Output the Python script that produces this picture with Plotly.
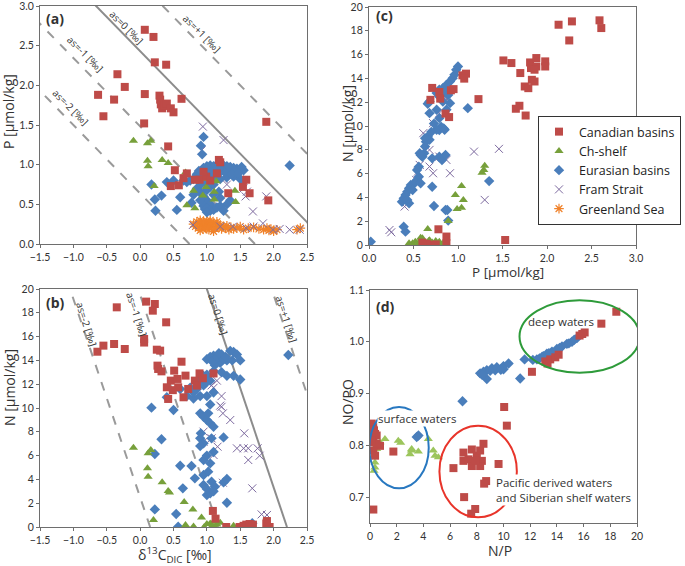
import plotly.graph_objects as go

# ---------------- DATA ----------------
# Panel (a): delta13C_DIC vs P
a_can_d13c = [0.07,0.20,0.22,0.39,-0.34,-0.23,-0.63,-0.39,-0.55,0.07,0.29,0.30,0.31,0.33,0.36,0.40,0.46,0.50,0.62,0.06,0.42,1.89,0.52,0.46,0.58,0.65,0.82,0.89,1.18,1.20,1.15,1.32,1.54,1.59,1.64,1.92,0.99,1.05,0.70,0.95]
a_can_p    = [2.70,2.61,2.29,2.26,2.14,1.98,1.88,1.82,1.61,1.89,1.87,1.82,1.76,1.71,1.74,1.77,1.71,1.66,1.83,1.52,1.23,1.54,0.93,0.73,0.74,0.83,0.81,0.81,1.06,1.03,0.89,0.64,0.72,0.81,0.64,0.55,0.85,0.80,0.89,0.91]
a_chs_d13c = [-0.10,0.11,0.16,0.11,0.12,0.33,0.42,0.21,0.68,0.70,0.82,0.95,0.94,1.11,1.11,1.43,1.42,0.80,1.14,0.99]
a_chs_p    = [1.30,1.27,1.30,1.05,0.98,1.06,1.02,0.73,0.90,0.49,0.45,0.82,0.61,0.66,0.56,0.53,0.67,0.67,0.79,0.72]
a_eur_d13c = [0.17,0.22,0.23,0.32,0.40,0.50,0.55,0.60,0.77,0.97,1.30,0.95,0.93,0.91,2.24,
              0.95,1.00,1.05,1.10,1.15,1.20,1.25,1.30,1.35,1.40,1.45,1.50,1.55,1.00,1.10,1.20,1.30,
              0.85,0.90,0.95,1.00,1.05,1.10,1.15,1.20,1.30,1.40,1.50,1.55,0.75,0.80,0.70,0.65,
              0.85,0.90,0.95,1.00,1.05,0.95,1.00,1.05,1.10,1.15,1.20,1.25,0.90,1.00,1.05,1.10,0.80,1.35,1.20,1.10,1.00,0.92,
              1.02,1.12,1.22,1.32,1.42,1.52,0.97,1.07,1.17,1.27,1.37,1.47,0.88,0.98,1.08,1.18]
a_eur_p    = [0.75,0.56,0.42,0.61,0.78,0.80,0.43,0.59,0.52,0.44,0.50,1.35,1.13,1.24,0.99,
              0.96,0.98,0.99,0.98,1.00,0.97,0.99,0.98,0.97,0.96,0.95,0.94,0.93,0.93,0.94,0.92,0.93,
              0.88,0.85,0.87,0.84,0.86,0.83,0.85,0.82,0.84,0.85,0.82,0.80,0.80,0.82,0.78,0.80,
              0.70,0.65,0.60,0.55,0.50,0.48,0.45,0.42,0.43,0.46,0.48,0.42,0.55,0.68,0.72,0.75,0.62,0.55,0.58,0.62,0.40,0.76,
              0.96,0.97,0.95,0.96,0.93,0.97,0.90,0.91,0.89,0.90,0.88,0.89,0.92,0.78,0.80,0.66]
a_fra_d13c = [0.94,0.92,1.25,1.14,1.25,1.39,1.49,1.58,1.69,1.89,1.10,1.30,1.55,1.60,0.79,1.39,1.59,1.84,1.99,2.24,2.39,2.09,1.70,1.20,1.05]
a_fra_p    = [1.48,1.18,1.31,0.87,0.82,0.87,0.86,0.60,0.41,0.60,0.78,0.75,0.70,0.66,0.24,0.22,0.20,0.26,0.18,0.18,0.18,0.19,0.22,0.22,0.90]
a_grl_d13c = [0.80,0.83,0.85,0.87,0.89,0.90,0.92,0.94,0.95,0.97,0.98,1.00,1.02,1.03,1.05,1.07,1.08,1.10,1.12,1.14,1.16,1.18,1.20,1.22,1.25,1.28,1.30,1.33,1.36,1.40,1.45,1.50,1.55,1.62,1.70,1.78,1.85,1.90,1.93,1.96,2.00,2.05,2.35,2.40,0.90,0.95,1.00,1.05,1.10,1.15]
a_grl_p    = [0.25,0.22,0.28,0.20,0.26,0.30,0.23,0.19,0.27,0.24,0.21,0.29,0.25,0.18,0.27,0.22,0.24,0.26,0.20,0.23,0.25,0.21,0.24,0.19,0.22,0.20,0.23,0.18,0.21,0.19,0.20,0.22,0.18,0.20,0.21,0.19,0.18,0.20,0.17,0.19,0.16,0.18,0.18,0.20,0.17,0.29,0.19,0.30,0.16,0.28]

# Panel (b): delta13C_DIC vs N
b_can_d13c = [-0.35,0.09,0.22,0.19,0.39,-0.64,-0.55,-0.39,-0.23,0.06,0.06,0.25,0.30,0.26,0.27,0.32,0.62,0.51,0.46,0.56,0.68,0.82,0.89,0.85,0.72,0.40,0.57,0.65,0.42,0.49,0.94,1.10,
              1.09,1.13,1.29,1.49,1.55,1.59,1.64,1.69,1.89,1.94,1.90]
b_can_n    = [18.46,18.94,18.74,18.18,17.20,14.73,15.24,15.38,14.96,15.50,15.80,14.90,14.82,13.56,13.28,13.08,13.89,13.14,12.30,12.44,12.72,12.30,12.91,11.88,11.60,11.74,11.74,10.90,10.76,11.50,12.50,12.90,
              1.35,0.70,0.00,0.00,0.10,0.20,0.25,0.20,0.30,0.00,0.50]
b_chs_d13c = [-0.10,0.12,0.16,0.11,0.12,0.33,0.42,0.44,0.66,0.79,0.92,0.20,0.68,0.80,0.96,1.05,1.10,1.15,1.20,1.40,1.00,1.08,1.12]
b_chs_n    = [6.67,6.20,6.48,4.93,4.23,3.76,3.03,2.90,2.11,1.47,0.80,0.58,0.16,0.05,0.00,0.30,0.44,0.20,0.35,0.10,0.25,0.10,0.00]
b_eur_d13c = [2.22,1.00,1.10,1.22,1.35,1.40,1.50,1.30,1.20,1.12,1.10,1.22,1.30,1.40,1.50,0.90,0.95,0.85,0.75,0.70,1.00,1.10,0.80,0.40,0.60,1.05,1.05,1.15,1.25,1.45,1.00,1.05,0.95,0.80,0.90,
              0.17,0.50,0.90,0.95,1.00,1.05,1.10,1.02,0.32,0.22,0.91,0.90,0.95,1.25,1.07,0.60,0.77,0.95,1.05,0.82,0.95,1.02,1.07,0.95,1.12,1.25,1.30,0.64,0.22,0.54,1.30,1.68,0.57,1.00,1.05,1.00,1.10,0.90,1.00,1.10,
              1.18,1.28,1.38,1.08,0.98,0.88]
b_eur_n    = [14.45,14.10,14.40,14.50,14.80,14.70,14.00,14.00,13.80,13.60,13.10,13.00,12.70,12.70,12.40,12.40,11.90,11.60,11.70,11.00,11.00,11.30,10.80,10.90,11.60,10.30,14.30,14.20,14.10,14.50,12.80,12.30,12.70,11.30,11.00,
              10.03,9.83,9.55,9.27,8.99,8.71,8.43,9.55,7.37,6.13,7.87,7.45,7.03,7.53,7.45,5.15,5.12,5.63,5.35,4.09,4.37,4.65,3.81,3.53,3.39,3.75,4.03,3.25,1.48,1.09,2.04,0.31,0.03,2.69,2.83,6.00,6.30,6.80,3.20,3.00,
              14.60,14.30,14.00,13.90,12.10,12.00]
b_fra_d13c = [1.22,1.24,1.35,0.95,1.07,1.16,1.56,1.45,1.55,1.62,1.62,1.76,1.79,1.10,1.24,1.68,1.82,1.90,0.95,1.10,1.22,1.20,1.15,1.07]
b_fra_n    = [10.10,9.55,8.99,8.01,7.45,6.75,7.87,6.61,6.61,6.61,5.63,6.61,5.99,6.05,3.72,3.25,1.06,1.01,7.17,11.70,11.00,10.20,12.30,11.90]

# Panel (c): P vs N
c_can_p = [2.13,2.28,2.59,2.61,2.25,1.51,1.60,1.70,1.81,1.82,1.88,1.88,1.86,1.98,1.98,1.83,1.86,1.75,1.79,1.23,1.65,1.69,1.76,1.53,
           0.71,0.69,0.79,0.92,0.95,1.05,1.09,1.07,0.86,0.90,0.80,0.78,0.87,0.70,0.87,0.65,0.60,0.75]
c_can_n = [18.51,18.79,18.88,18.23,17.19,15.51,15.29,14.45,15.34,14.87,15.71,15.00,14.73,15.43,15.00,13.88,13.74,13.32,13.18,12.26,11.45,11.70,10.88,0.42,
           13.20,12.20,12.86,13.00,13.10,14.26,14.40,13.98,11.04,10.75,12.30,1.32,0.71,0.00,0.14,0.10,0.20,0.05]
c_chs_p = [1.30,1.29,1.27,1.04,0.97,1.06,0.99,1.04,0.89,0.66,0.45,0.52,0.58,0.62,0.67,0.71,0.75,0.79,0.84,0.60,0.64,0.49,0.55,0.70,0.80,0.58,0.68]
c_chs_n = [6.66,6.30,6.07,4.95,4.20,3.78,3.02,3.13,2.01,1.34,0.14,0.28,0.42,0.28,0.33,0.22,0.33,0.28,0.22,0.56,0.14,0.14,0.05,0.05,0.10,0.60,0.40]
c_eur_p = [0.37,0.39,0.41,0.43,0.45,0.47,0.51,0.54,0.56,0.52,0.58,0.49,0.43,0.45,0.56,0.54,0.60,0.62,0.58,0.71,0.73,0.86,0.88,1.35,0.39,0.41,0.02,0.64,0.66,0.79,0.82,0.71,0.86,0.79,0.81,0.84,
           0.66,0.68,0.76,0.79,0.83,0.87,0.91,0.94,0.96,0.98,1.00,0.79,0.83,0.87,0.91,0.76,0.79,0.68,0.76,0.85,0.68,0.63,1.11,0.63,0.57,0.85,0.89,0.73,0.70,0.89]
c_eur_n = [3.64,3.92,4.20,4.48,4.76,5.04,5.18,5.46,5.74,5.30,5.18,4.62,3.78,3.50,6.58,6.30,7.42,7.70,7.56,4.90,3.28,2.94,2.94,5.37,1.54,1.12,0.28,8.68,9.10,7.42,7.14,7.28,7.56,9.66,9.94,9.80,
           11.87,12.06,12.77,13.04,13.18,13.46,13.74,14.02,14.30,14.73,15.00,12.48,12.06,11.36,11.92,11.36,10.66,11.08,9.68,9.68,8.84,8.98,11.50,8.28,7.71,12.90,12.60,10.20,9.50,2.05]
c_fra_p = [0.23,0.25,0.40,0.55,0.57,0.68,0.72,0.68,0.87,0.91,1.18,1.46,1.30,0.75,0.79,0.53,0.61,0.72,0.79,0.87,0.85,0.66]
c_fra_n = [1.26,1.07,3.23,6.17,6.73,7.99,6.03,6.59,7.15,6.03,7.85,8.08,3.79,7.29,7.43,5.47,9.40,10.24,11.08,12.20,12.48,9.00]

# Panel (d): N/P vs NO/PO
d_can_np = [18.45,17.33,16.08,15.70,15.90,12.13,13.13,13.50,13.88,14.13,13.30,10.05,10.25,6.25,7.00,7.00,7.63,7.38,7.63,8.00,8.25,8.38,8.50,8.25,7.88,9.63,8.70,8.55,7.05,7.88,7.58,
            0.25,1.75,0.75,0.13,0.25,0.13,0.38,0.25,0.20,0.50,0.25,0.38,0.50,0.10,0.30]
d_can_nopo = [1.058,1.035,1.018,1.012,1.015,0.942,0.962,0.966,0.970,0.975,0.958,0.874,0.838,0.756,0.786,0.770,0.792,0.773,0.760,0.780,0.790,0.770,0.803,0.760,0.770,0.764,0.731,0.726,0.700,0.677,0.668,
              0.676,0.788,0.799,0.842,0.835,0.825,0.822,0.816,0.806,0.819,0.790,0.780,0.803,0.810,0.830]
d_chs_np = [1.12,2.12,3.12,3.62,3.00,4.74,4.87,5.12,4.37,0.37,0.37,0.25,0.50,0.75,0.12,0.30,0.50,2.30,3.10]
d_chs_nopo = [0.812,0.809,0.793,0.788,0.783,0.790,0.780,0.777,0.812,0.767,0.757,0.780,0.800,0.806,0.790,0.751,0.793,0.805,0.790]
d_eur_np = [12.50,12.90,13.25,13.63,14.00,14.38,14.75,15.13,15.50,12.70,13.40,14.20,14.90,15.30,11.58,11.25,8.25,8.50,8.75,9.13,9.50,10.00,10.38,9.38,8.75,10.00,6.93,3.63,3.50,12.20,13.00,8.40,9.00,9.80]
d_eur_nopo = [0.966,0.971,0.977,0.981,0.986,0.991,0.996,1.000,1.007,0.968,0.978,0.988,0.997,1.004,0.966,0.929,0.939,0.942,0.945,0.949,0.951,0.953,0.958,0.945,0.928,0.947,0.885,0.819,0.816,0.965,0.972,0.936,0.944,0.946]

# Isolines of delta13C_as
as_values = [-2, -1, 0, 1]
as_labels = ["as=-2 [‰]", "as=-1 [‰]", "as=0 [‰]", "as=+1 [‰]"]
a_line_intercepts = [0.74, 1.72, 2.82, 3.82]   # d13C at P = 0
a_line_slope = 1.16                            # d(d13C)/dP
b_line_intercepts = [0.15, 1.17, 2.20, 3.17]   # d13C at N = 0
b_line_slope = 0.06                            # d(d13C)/dN
a_label_pos = [(-1.04, 1.73), (-0.82, 2.39), (-0.21, 2.73), (0.92, 2.66)]
b_label_pos = [(-0.80, 17.06), (-0.04, 17.85), (1.18, 17.85), (2.20, 17.5)]

series_names = ["Canadian basins", "Ch-shelf", "Eurasian basins", "Fram Strait", "Greenland Sea"]

# ---------------- STYLE ----------------
W, H = 685, 566
def px(x): return x / W
def py(y): return 1 - y / H

C_CAN = "#BE4B48"
C_CHS = "#77A03B"
C_CHS_D = "#9CC55C"
C_EUR = "#4A7EBB"
C_FRA = "#7D6A9F"
C_GRL = "#F0822A"
FONT = "Open Sans"
TICKFONT = dict(family="Lato", size=10.5, color="#333333")

styles = {
    "Canadian basins": dict(symbol="square", size=8, color=C_CAN, line=dict(width=0)),
    "Ch-shelf": dict(symbol="triangle-up", size=8, color=C_CHS, line=dict(width=0)),
    "Eurasian basins": dict(symbol="diamond", size=8, color=C_EUR, line=dict(width=0)),
    "Fram Strait": dict(symbol="x-thin-open", size=8, color=C_FRA, line=dict(width=1, color=C_FRA)),
    "Greenland Sea": dict(symbol="asterisk-open", size=8, color=C_GRL, line=dict(width=1.2, color=C_GRL)),
}

fig = go.Figure()

def add(x, y, name, xa, ya, show=False, color=None, rank=None):
    m = dict(styles[name])
    if color:
        m["color"] = color
    fig.add_trace(go.Scatter(x=x, y=y, mode="markers", name=name, marker=m,
                             xaxis=xa, yaxis=ya, showlegend=show,
                             legendrank=rank if rank else 1000, hoverinfo="skip"))

# iso-lines (a)
for v, b0 in zip(as_values, a_line_intercepts):
    ps = [0.0, 3.2]
    ds = [b0 - a_line_slope * p for p in ps]
    fig.add_trace(go.Scatter(x=ds, y=ps, mode="lines", showlegend=False, xaxis="x", yaxis="y",
                             line=dict(color="#8c8c8c" if v == 0 else "#9a9a9a", width=2,
                                       dash="solid" if v == 0 else "dash"), hoverinfo="skip"))
# iso-lines (b)
for v, b0 in zip(as_values, b_line_intercepts):
    ns = [0.0, 21.0]
    ds = [b0 - b_line_slope * n for n in ns]
    fig.add_trace(go.Scatter(x=ds, y=ns, mode="lines", showlegend=False, xaxis="x2", yaxis="y2",
                             line=dict(color="#8c8c8c" if v == 0 else "#9a9a9a", width=2,
                                       dash="solid" if v == 0 else "dash"), hoverinfo="skip"))

# panel (a)
add(a_grl_d13c, a_grl_p, "Greenland Sea", "x", "y", show=True, rank=5)
add(a_fra_d13c, a_fra_p, "Fram Strait", "x", "y")
add(a_eur_d13c, a_eur_p, "Eurasian basins", "x", "y")
add(a_chs_d13c, a_chs_p, "Ch-shelf", "x", "y")
add(a_can_d13c, a_can_p, "Canadian basins", "x", "y")
# panel (b)
add(b_fra_d13c, b_fra_n, "Fram Strait", "x2", "y2")
add(b_eur_d13c, b_eur_n, "Eurasian basins", "x2", "y2")
add(b_chs_d13c, b_chs_n, "Ch-shelf", "x2", "y2")
add(b_can_d13c, b_can_n, "Canadian basins", "x2", "y2")
# panel (c)
add(c_fra_p, c_fra_n, "Fram Strait", "x3", "y3", show=True, rank=4)
add(c_eur_p, c_eur_n, "Eurasian basins", "x3", "y3", show=True, rank=3)
add(c_chs_p, c_chs_n, "Ch-shelf", "x3", "y3", show=True, rank=2)
add(c_can_p, c_can_n, "Canadian basins", "x3", "y3", show=True, rank=1)
# panel (d)
add(d_eur_np, d_eur_nopo, "Eurasian basins", "x4", "y4")
add(d_chs_np, d_chs_nopo, "Ch-shelf", "x4", "y4", color=C_CHS_D)
add(d_can_np, d_can_nopo, "Canadian basins", "x4", "y4")

def xax(domain, rng, dtick, anchor, fmt):
    return dict(domain=domain, range=rng, dtick=dtick, tick0=rng[0], anchor=anchor, showgrid=False, zeroline=False,
                showline=True, mirror=True, linecolor="#6e6e6e", linewidth=1.2, ticks="outside",
                ticklen=3, tickcolor="#6e6e6e", tickfont=TICKFONT, tickformat=fmt, automargin=False,
                ticklabeloverflow="allow")

fig.update_layout(
    width=W, height=H, margin=dict(l=0, r=0, t=0, b=0, autoexpand=False),
    paper_bgcolor="white", plot_bgcolor="white",
    font=dict(family=FONT, color="#333333"),
    xaxis=xax([px(40), px(307)], [-1.5, 2.5], 0.5, "y", ".1f"),
    yaxis=xax([py(244), py(6)], [0, 3.0], 0.5, "x", ".1f"),
    xaxis2=xax([px(40), px(307)], [-1.5, 2.5], 0.5, "y2", ".1f"),
    yaxis2=xax([py(527), py(289)], [0, 20], 2, "x2", "d"),
    xaxis3=xax([px(369), px(636)], [0, 3.0], 0.5, "y3", ".1f"),
    yaxis3=xax([py(245), py(7)], [0, 20], 2, "x3", "d"),
    xaxis4=xax([px(370), px(637)], [0, 20], 2, "y4", "d"),
    yaxis4=xax([py(523), py(290)], [0.65, 1.1], 0.1, "x4", ".1f"),
    legend=dict(x=px(681), y=py(116), xanchor="right", yanchor="top", bgcolor="white",
                bordercolor="#333333", borderwidth=1, font=dict(family=FONT, size=12.5, color="#222"),
                itemwidth=30, tracegroupgap=0),
)
fig.update_layout(yaxis4=dict(tick0=0.7))

# ellipses in (d)
fig.add_shape(type="circle", xref="x4", yref="y4", x0=11.2, x1=20.2, y0=0.940, y1=1.080,
              line=dict(color="#2E9B3A", width=2))
fig.add_shape(type="circle", xref="x4", yref="y4", x0=-0.05, x1=4.4, y0=0.717, y1=0.874,
              line=dict(color="#2878C0", width=2))
fig.add_shape(type="circle", xref="x4", yref="y4", x0=5.2, x1=11.0, y0=0.661, y1=0.838,
              line=dict(color="#E8342A", width=2))

ann = []
def txt(x, y, t, size=12, angle=0, xref="paper", yref="paper", bold=False, bg=None, xanchor="center", align="center"):
    d = dict(x=x, y=y, xref=xref, yref=yref, text=("<b>%s</b>" % t) if bold else t, showarrow=False,
             textangle=angle, font=dict(family=FONT, size=size, color="#333333"), xanchor=xanchor,
             yanchor="middle", align=align)
    if bg:
        d["bgcolor"] = bg
        d["borderpad"] = 0
    ann.append(d)

for (x, y), t in zip(a_label_pos, as_labels):
    txt(x, y, t, size=10, angle=45, xref="x", yref="y")
for (x, y), t in zip(b_label_pos, as_labels):
    txt(x, y, t, size=10, angle=72, xref="x2", yref="y2")

txt(px(55), py(18), "(a)", size=14, bold=True)
txt(px(55), py(302), "(b)", size=14, bold=True)
txt(px(384), py(16), "(c)", size=14, bold=True)
txt(px(385), py(306), "(d)", size=14, bold=True)

txt(px(9), py(112), "P [µmol/kg]", size=14, angle=-90)
txt(px(9), py(388), "N [µmol/kg]", size=14, angle=-90)
txt(px(175), py(555), "δ<sup>13</sup>C<sub>DIC</sub> [‰]", size=14)
txt(px(347), py(124), "N [µmol/kg]", size=14, angle=-90)
txt(px(508), py(272), "P [µmol/kg]", size=13.5)
txt(px(347), py(402), "NO/PO", size=14, angle=-90)
txt(px(500), py(550), "N/P", size=14)

txt(14.3, 1.040, "deep waters", size=11.5, xref="x4", yref="y4")
txt(3.5, 0.851, "surface waters", size=11.5, xref="x4", yref="y4", bg="white")
txt(9.4, 0.714, "Pacific derived waters<br>and Siberian shelf waters", size=11.5, xref="x4", yref="y4",
    bg="white", xanchor="left", align="left")

fig.update_layout(annotations=ann)
fig.write_html("out.html", config={"displayModeBar": False},
               post_script="document.body.style.margin='0px';document.body.style.overflow='hidden';")
